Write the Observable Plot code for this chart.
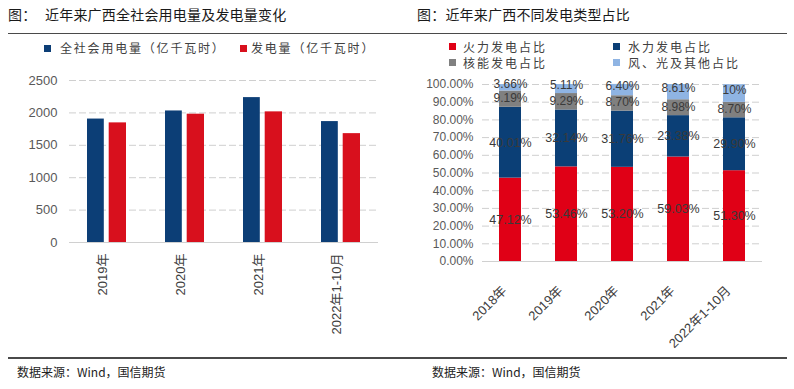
<!DOCTYPE html>
<html><head><meta charset="utf-8">
<script src="https://cdn.jsdelivr.net/npm/d3@7"></script>
<script src="https://cdn.jsdelivr.net/npm/@observablehq/plot@0.6"></script>
<style>
body{margin:0;background:#fff;width:794px;height:389px;position:relative;overflow:hidden;font-family:"Liberation Sans","Noto Sans CJK SC",sans-serif;}
.abs{position:absolute;white-space:nowrap;}
.title{font-family:"Noto Sans CJK SC",sans-serif;font-size:14px;line-height:14px;color:#1a1a1a;letter-spacing:0.2px;}
.rule{position:absolute;height:1.5px;background:#4a4a4a;}
.leg{font-family:"Noto Sans CJK SC",sans-serif;font-size:12px;line-height:12px;color:#404040;}
.sq{position:absolute;width:7px;height:7px;}
.cap{font-family:"Noto Sans CJK SC",sans-serif;font-size:12px;line-height:12px;color:#222;}
svg{position:absolute;}
</style></head>
<body>
<script>
// ---- Left chart data ----
const years1 = ["2019年","2020年","2021年","2022年1-10月"];
const consumption = [1905, 2030, 2236, 1866];
const generation = [1846, 1980, 2016, 1680];
const seriesNames1 = ["全社会用电量（亿千瓦时）","发电量（亿千瓦时）"];
const yTicks1 = [0, 500, 1000, 1500, 2000, 2500];

// ---- Right chart data ----
const years2 = ["2018年","2019年","2020年","2021年","2022年1-10月"];
const thermal = [47.12, 53.46, 53.20, 59.03, 51.30];
const hydro = [40.01, 32.14, 31.76, 23.38, 29.90];
const nuclear = [9.19, 9.29, 8.70, 8.98, 8.70];
const windSolar = [3.66, 5.11, 6.40, 8.61, 10];
const seriesNames2 = ["火力发电占比","水力发电占比","核能发电占比","风、光及其他占比"];
const yTicks2 = [0,10,20,30,40,50,60,70,80,90,100];

const colors1 = ["#0C3E76", "#D8101D"];
const colors2 = ["#E00016", "#0B3F76", "#808080", "#8FB4E3"];

function add(html){ document.body.insertAdjacentHTML("beforeend", html); }

// titles, rules, captions
add(`<div class="abs title" style="left:8px;top:7px">图：</div>`);
add(`<div class="abs title" style="left:45px;top:7px">近年来广西全社会用电量及发电量变化</div>`);
add(`<div class="abs title" style="left:417px;top:7px">图：近年来广西不同发电类型占比</div>`);
add(`<div class="rule" style="left:8px;top:32.5px;width:392px"></div>`);
add(`<div class="rule" style="left:400px;top:32.5px;width:387px"></div>`);
add(`<div class="rule" style="left:8px;top:357px;width:392px"></div>`);
add(`<div class="rule" style="left:400px;top:357px;width:387px"></div>`);
add(`<div class="abs cap" style="left:17px;top:366px">数据来源：Wind，国信期货</div>`);
add(`<div class="abs cap" style="left:432px;top:366px">数据来源：Wind，国信期货</div>`);

// left legend
const leg1x = [[44,60],[240,251]];
seriesNames1.forEach((n,i)=>{
  add(`<div class="sq" style="left:${leg1x[i][0]}px;top:45px;background:${colors1[i]}"></div>`);
  add(`<div class="abs leg" style="left:${leg1x[i][1]}px;top:42px;letter-spacing:1.8px">${n}</div>`);
});
// right legend
const leg2pos = [[449,463,43],[613,628,43],[449,463,59],[613,628,59]];
seriesNames2.forEach((n,i)=>{
  const p = leg2pos[i];
  add(`<div class="sq" style="left:${p[0]}px;top:${p[2]}px;background:${colors2[i]}"></div>`);
  add(`<div class="abs leg" style="left:${p[1]}px;top:${p[2]-2.5}px;letter-spacing:2px">${n}</div>`);
});

const fontFam = '"Liberation Sans","Noto Sans CJK SC",sans-serif';

// ---- Left chart ----
const left = Plot.plot({
  width: 400, height: 280,
  marginLeft: 69, marginRight: 22, marginTop: 10, marginBottom: 108,
  style: {fontFamily: fontFam, fontSize: "13px", color: "#595959", background: "transparent"},
  x: {domain: years1, paddingInner: 0.5, paddingOuter: 0.22, axis: null},
  y: {domain: [0, 2500], axis: null},
  marks: [
    Plot.gridY(yTicks1.filter(d => d > 0), {stroke: "#cfcfcf", strokeOpacity: 1, strokeDasharray: "7,3"}),
    Plot.ruleY([0], {stroke: "#d0d0d0"}),
    Plot.barY(years1, {x: d => d, y: (d, i) => consumption[i], fill: colors1[0], insetRight: 22.2}),
    Plot.barY(years1, {x: d => d, y: (d, i) => generation[i], fill: colors1[1], insetLeft: 21.7}),
    Plot.axisY(yTicks1, {tickSize: 0, tickPadding: 12, fontSize: 13, fill: "#595959", tickFormat: d => String(d)}),
    Plot.text(years1, {x: d => d, frameAnchor: "bottom", dy: 11, rotate: -90, textAnchor: "end", fontSize: 13, fill: "#404040"})
  ]
});
left.style.left = "0px"; left.style.top = "70px";
document.body.appendChild(left);

// ---- Right chart ----
const seriesVals = [thermal, hydro, nuclear, windSolar];
const rows = [];
years2.forEach((yr, j) => {
  let cum = 0;
  seriesVals.forEach((arr, k) => {
    const v = arr[j];
    rows.push({year: yr, type: seriesNames2[k], k, value: v, mid: cum + v / 2});
    cum += v;
  });
});
const fmtPct = v => Number.isInteger(v) ? v + "%" : v.toFixed(2) + "%";

const right = Plot.plot({
  width: 394, height: 300,
  marginLeft: 82, marginRight: 32, marginTop: 14, marginBottom: 109,
  style: {fontFamily: fontFam, fontSize: "12px", color: "#595959", background: "transparent"},
  x: {domain: years2, paddingInner: 0.607, paddingOuter: 0.3035, axis: null},
  y: {domain: [0, 100], axis: null},
  color: {domain: seriesNames2, range: colors2},
  marks: [
    Plot.gridY(yTicks2.filter(d => d > 0), {stroke: "#cfcfcf", strokeOpacity: 1, strokeDasharray: "7,3"}),
    Plot.ruleY([0], {stroke: "#d0d0d0"}),
    Plot.barY(rows, {x: "year", y: "value", fill: "type", order: seriesNames2}),
    Plot.text(rows.filter(d => d.k < 2), {x: "year", y: "mid", text: d => fmtPct(d.value), fontSize: 12.5, fill: "#3a3a3a"}),
    Plot.text(rows.filter(d => d.k === 2), {x: "year", y: "mid", dy: -1, text: d => fmtPct(d.value), fontSize: 12, fill: "#3a3a3a"}),
    Plot.text(rows.filter(d => d.k === 3), {x: "year", y: "mid", dy: -3.5, text: d => fmtPct(d.value), fontSize: 12, fill: "#3a3a3a"}),
    Plot.axisY(yTicks2, {tickSize: 0, tickPadding: 9, fontSize: 12, fill: "#595959", tickFormat: d => d.toFixed(2) + "%"}),
    Plot.text(years2, {x: d => d, frameAnchor: "bottom", dx: -3, dy: 30, rotate: -45, textAnchor: "end", fontSize: 13, fill: "#404040"})
  ]
});
right.style.left = "400px"; right.style.top = "70px";
document.body.appendChild(right);
</script>
</body></html>
